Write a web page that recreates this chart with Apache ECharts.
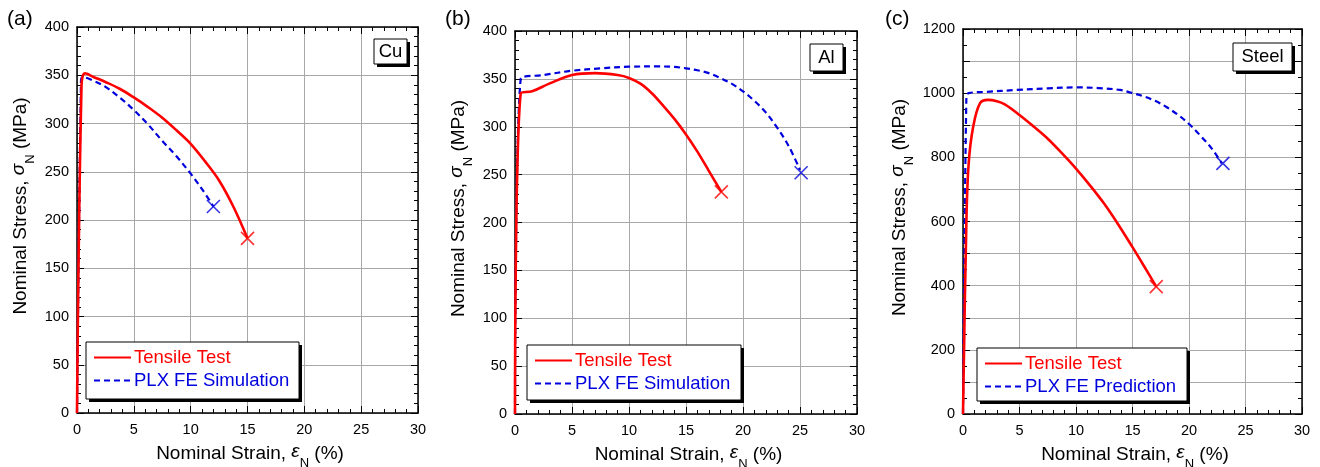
<!DOCTYPE html>
<html>
<head>
<meta charset="utf-8">
<script src="https://cdn.jsdelivr.net/npm/echarts@6/dist/echarts.min.js"></script>
<style>
html,body{margin:0;padding:0;background:#fff;}
#chart{width:1320px;height:467px;}
</style>
</head>
<body>
<div id="chart"></div>
<script>
// ---------- data ----------
const panelLabels = ['(a)', '(b)', '(c)'];
const materialLabels = ['Cu', 'Al', 'Steel'];
const testName = 'Tensile Test';
const simNames = ['PLX FE Simulation', 'PLX FE Simulation', 'PLX FE Prediction'];

const xTicks = [0, 5, 10, 15, 20, 25, 30];
const yMaxes = [400, 400, 1200];

// (a) Cu
const cuTestStrain = [0, 0.4, 0.7, 1.5, 2.5, 3.75, 5, 6.25, 7.5, 8.75, 10, 11.25, 12.5, 13.75, 15];
const cuTestStress = [0, 340, 352, 348, 343, 336, 327, 317, 306, 293, 279, 261, 241, 214, 181];
const cuSimStrain = [0, 0.35, 0.5, 1.5, 2.5, 3.75, 5, 6.25, 7.5, 8.75, 10, 11, 12];
const cuSimStress = [0, 344, 348, 344, 338, 327, 314, 299, 282, 266, 248, 232, 214];
const cuFracture = [[15, 181], [12, 214]];

// (b) Al
const alTestStrain = [0, 0.5, 1.5, 3, 5, 7, 9, 10, 11, 12, 13, 14, 15, 16, 17, 18.1];
const alTestStress = [0, 335, 337, 345, 354, 356, 354, 351, 345, 335, 322, 308, 292, 274, 254, 232];
const alSimStrain = [0, 0.5, 2.5, 5, 7.5, 10, 12.5, 14, 15, 16, 17, 18, 19, 20, 21, 22, 23, 24, 25];
const alSimStress = [0, 350, 354, 358.5, 361, 362.7, 363, 362.5, 361, 359, 356, 351, 345, 337, 327, 315, 299, 280, 255];
const alFracture = [[18.1, 232], [25.1, 252]];

// (c) Steel
const stTestStrain = [0, 0.3, 0.5, 0.9, 1.5, 2.2, 3, 3.7, 5, 6.25, 7.5, 8.75, 10, 11.25, 12.5, 13.75, 15, 16, 17.1];
const stTestStress = [0, 600, 780, 895, 968, 979, 975, 965, 932, 896, 858, 813, 765, 712, 655, 590, 520, 462, 397];
const stSimStrain = [0, 0.3, 0.5, 2, 4.75, 7.5, 10, 12, 13.9, 15, 16, 17, 18, 19, 20, 21, 22, 22.9];
const stSimStress = [0, 990, 1000, 1004, 1010, 1015, 1018, 1016, 1010, 1000, 990, 976, 957, 933, 904, 868, 828, 781];
const stFracture = [[17.1, 397], [23.0, 781]];

// ---------- layout ----------
const FONT = 'Liberation Sans, Arial, sans-serif';
const grids = [
  {left: 77, top: 27, width: 341, height: 386},
  {left: 515, top: 31, width: 342, height: 383},
  {left: 963, top: 29, width: 339, height: 385}
];
const yIntervals = [50, 50, 100];
const yMinorSplits = [5, 5, 2];
const yLabelStep = [50, 50, 200];

const panelData = [
  {ts: cuTestStrain, ty: cuTestStress, ss: cuSimStrain, sy: cuSimStress, fr: cuFracture},
  {ts: alTestStrain, ty: alTestStress, ss: alSimStrain, sy: alSimStress, fr: alFracture},
  {ts: stTestStrain, ty: stTestStress, ss: stSimStrain, sy: stSimStress, fr: stFracture}
];

function zip(a, b) { return a.map((v, i) => [v, b[i]]); }

const RED = '#ff0000';
const BLUE = '#0000dd';
const GRIDC = '#a8a8a8';

const nameRich = {
  g: {fontStyle: 'italic', fontSize: 19, fontFamily: FONT, lineHeight: 23, verticalAlign: 'top'},
  s: {fontSize: 13, fontFamily: FONT, lineHeight: 13, verticalAlign: 'bottom', padding: [0, 0, -5, 0]}
};

const xAxes = [], yAxes = [], series = [], legends = [], titles = [], graphics = [];
grids.forEach((g, p) => {
  const common = {
    min: 0, axisLine: {show: true, onZero: false, lineStyle: {color: '#000', width: 1.5}},
    axisTick: {show: true, inside: true, length: 7, lineStyle: {color: '#000', width: 1}},
    minorTick: {show: true, length: 4, lineStyle: {color: '#000', width: 1}}
  };
  xAxes.push(Object.assign({}, common, {
    gridIndex: p, type: 'value', position: 'bottom', max: 30, interval: 5,
    minorTick: Object.assign({}, common.minorTick, {splitNumber: 5}),
    axisLabel: {color: '#000', fontSize: 14.5, fontFamily: FONT, margin: 9},
    splitLine: {show: true, lineStyle: {color: GRIDC, width: 1}},
    name: 'Nominal Strain, {g|ε}{s|N} (%)', nameLocation: 'middle', nameGap: 26,
    nameTextStyle: {color: '#000', fontSize: 19, fontFamily: FONT, rich: nameRich, padding: [0, 0, 0, 5]}
  }));
  xAxes.push(Object.assign({}, common, {
    gridIndex: p, type: 'value', position: 'top', max: 30, interval: 5,
    minorTick: Object.assign({}, common.minorTick, {splitNumber: 5}),
    axisLabel: {show: false}, splitLine: {show: false}
  }));
  yAxes.push(Object.assign({}, common, {
    gridIndex: p, type: 'value', position: 'left', max: yMaxes[p], interval: yIntervals[p],
    minorTick: Object.assign({}, common.minorTick, {splitNumber: yMinorSplits[p]}),
    axisLabel: {color: '#000', fontSize: 14.5, fontFamily: FONT, margin: 8,
      formatter: (v) => (v % yLabelStep[p] === 0 ? String(v) : '')},
    splitLine: {show: true, lineStyle: {color: GRIDC, width: 1}},
    name: 'Nominal Stress, {g|σ}{s|N} (MPa)', nameLocation: 'middle', nameGap: p === 2 ? 52 : 45,
    nameTextStyle: {color: '#000', fontSize: 19, fontFamily: FONT, rich: nameRich, padding: [0, 0, 0, 28]}
  }));
  yAxes.push(Object.assign({}, common, {
    gridIndex: p, type: 'value', position: 'right', max: yMaxes[p], interval: yIntervals[p],
    minorTick: Object.assign({}, common.minorTick, {splitNumber: yMinorSplits[p]}),
    axisLabel: {show: false}, splitLine: {show: false}
  }));

  const d = panelData[p];
  series.push({
    name: testName, type: 'line', xAxisIndex: 2 * p, yAxisIndex: 2 * p,
    data: zip(d.ts, d.ty), symbol: 'none', smooth: 0.35,
    lineStyle: {color: RED, width: 2.6}, itemStyle: {color: RED}, z: 4
  });
  series.push({
    name: simNames[p], type: 'line', xAxisIndex: 2 * p, yAxisIndex: 2 * p,
    data: zip(d.ss, d.sy), symbol: 'none', smooth: 0.35,
    lineStyle: {color: BLUE, width: 2.2, type: [6, 4]}, itemStyle: {color: BLUE}, z: 3
  });
  series.push({
    name: 'fracture-test-' + p, type: 'scatter', xAxisIndex: 2 * p, yAxisIndex: 2 * p,
    data: [d.fr[0]], symbol: 'path://M0,0L10,10M10,0L0,10', symbolSize: 13,
    itemStyle: {color: 'transparent', borderColor: RED, borderWidth: 1.6}, z: 5, silent: true
  });
  series.push({
    name: 'fracture-sim-' + p, type: 'scatter', xAxisIndex: 2 * p, yAxisIndex: 2 * p,
    data: [d.fr[1]], symbol: 'path://M0,0L10,10M10,0L0,10', symbolSize: 13,
    itemStyle: {color: 'transparent', borderColor: BLUE, borderWidth: 1.6}, z: 5, silent: true
  });
});

function shadowBox(x, y, w, h) {
  graphics.push({type: 'rect', shape: {x: x + 3, y: y + 3, width: w, height: h},
    style: {fill: '#000'}, z: 10, silent: true});
  graphics.push({type: 'rect', shape: {x: x, y: y, width: w, height: h},
    style: {fill: '#fff', stroke: '#000', lineWidth: 1}, z: 11, silent: true});
}

// legend boxes
const legendBoxes = [[86, 342, 213, 57], [527, 345, 214, 55], [977, 348, 210, 53]];
legendBoxes.forEach((b, p) => {
  shadowBox(b[0], b[1], b[2], b[3]);
  legends.push({
    left: b[0] + 7, top: b[1] + 6, orient: 'vertical', itemWidth: 37, itemHeight: 14, itemGap: 4,
    padding: 0, z: 20, selectedMode: false,
    itemStyle: {color: 'transparent', borderWidth: 0, opacity: 0},
    textStyle: {fontSize: 18.5, fontFamily: FONT, padding: [0, 0, 0, -2]},
    data: [
      {name: testName, textStyle: {color: RED}},
      {name: simNames[p], textStyle: {color: BLUE}}
    ]
  });
});

const panelLabelPos = [{left: 7, top: 9}, {left: 445, top: 9}, {left: 885, top: 9}];
panelLabelPos.forEach((lp, p) => {
  titles.push({text: panelLabels[p], left: lp.left, top: lp.top, padding: 0,
    textStyle: {fontSize: 21, fontWeight: 'normal', color: '#000', fontFamily: FONT}});
});
const matBoxes = [[374, 39, 33, 25], [810, 44, 33, 27], [1233, 43, 59, 28]];
matBoxes.forEach((b, p) => {
  shadowBox(b[0], b[1], b[2], b[3]);
  titles.push({text: materialLabels[p], left: b[0] + b[2] / 2, top: b[1] + b[3] / 2,
    textAlign: 'center', textVerticalAlign: 'middle', padding: 0, z: 20,
    textStyle: {fontSize: 18.5, fontWeight: 'normal', color: '#000', fontFamily: FONT}});
});

const chart = echarts.init(document.getElementById('chart'), null, {renderer: 'canvas'});
chart.setOption({
  animation: false,
  backgroundColor: '#fff',
  title: titles,
  legend: legends,
  graphic: graphics,
  grid: grids.map(g => Object.assign({containLabel: false, outerBoundsMode: 'none'}, g)),
  xAxis: xAxes,
  yAxis: yAxes,
  series: series
});
</script>
</body>
</html>
